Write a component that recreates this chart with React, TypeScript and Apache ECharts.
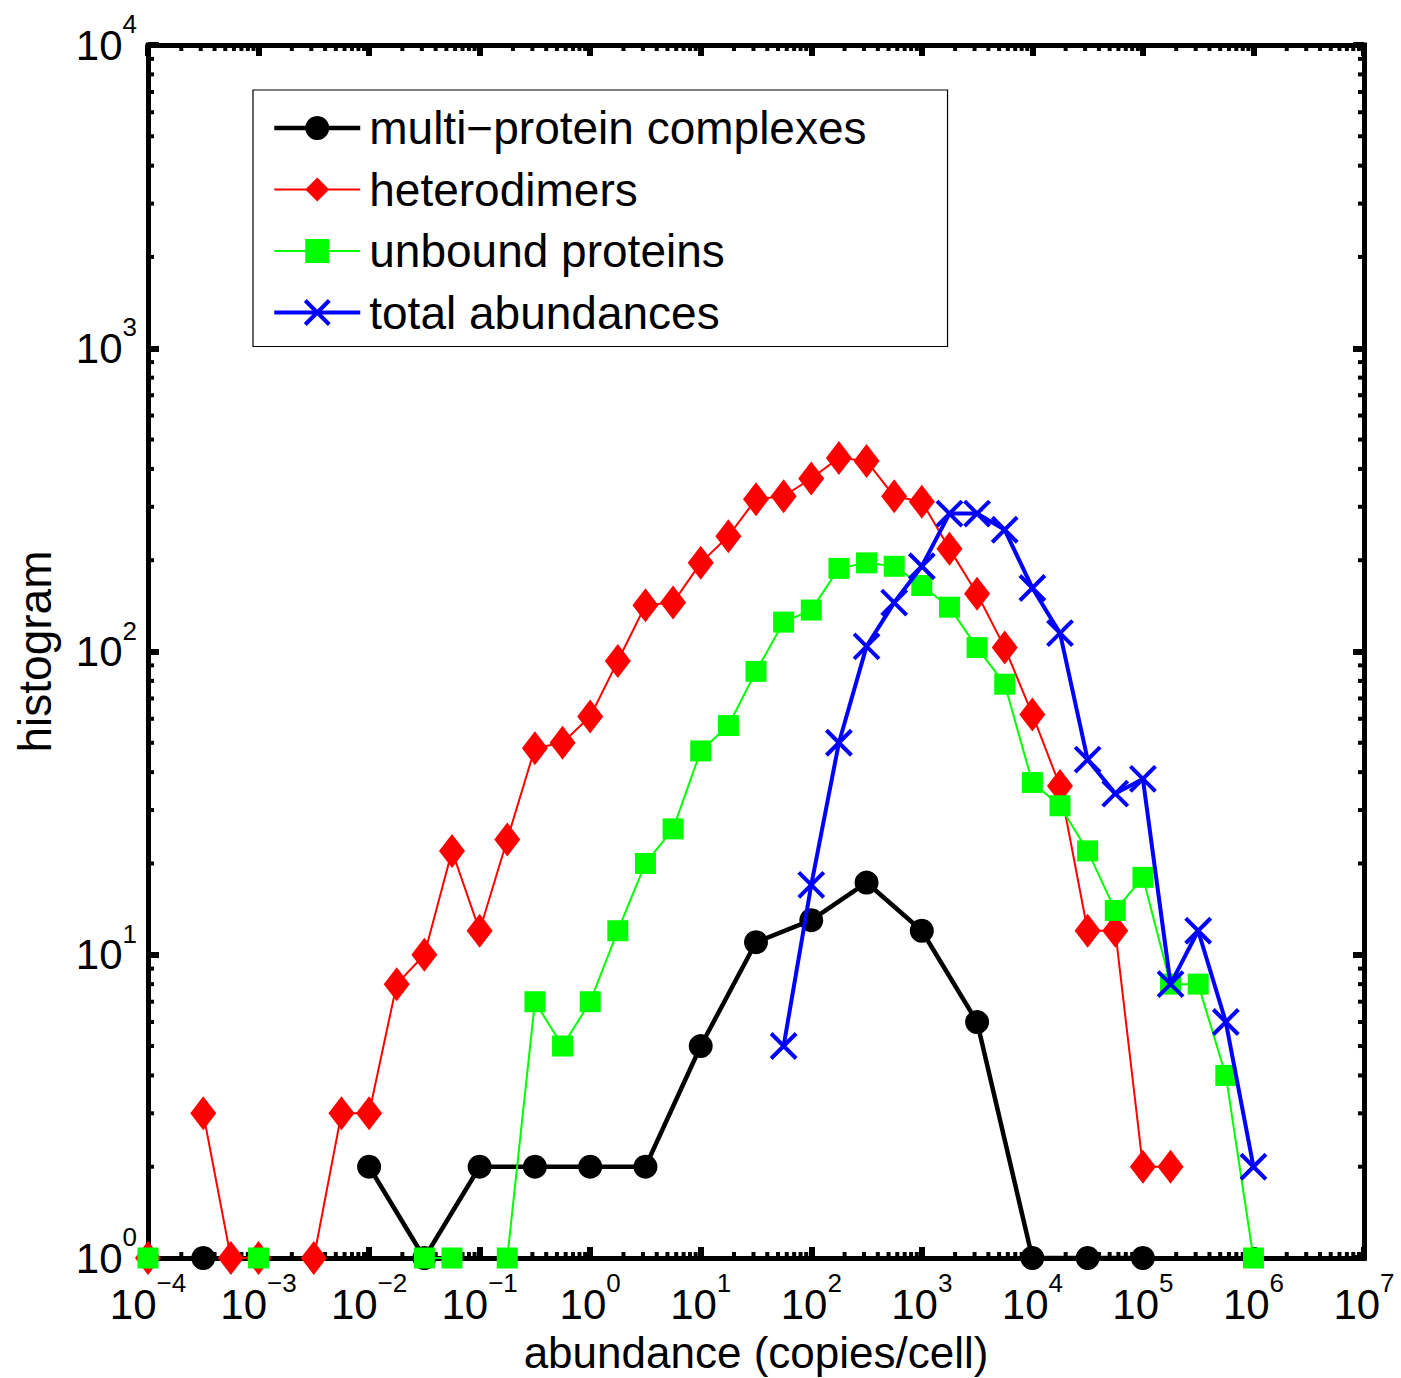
import React, { useEffect, useRef } from 'react';
import * as echarts from 'echarts';

const FONT = '"Liberation Sans", Arial, Helvetica, sans-serif';

// Bin centres as exponents of 10 (copies/cell)
const QUARTER_BINS_EXP = [
  -4, -3.75, -3.5, -3.25, -3, -2.75, -2.5, -2.25, -2, -1.75,
  -1.5, -1.25, -1, -0.75, -0.5, -0.25, 0, 0.25, 0.5, 0.75,
  1, 1.25, 1.5, 1.75, 2, 2.25, 2.5, 2.75, 3, 3.25,
  3.5, 3.75, 4, 4.25, 4.5, 4.75, 5, 5.25, 5.5, 5.75, 6,
];
const HALF_BINS_EXP = [
  -4, -3.5, -3, -2.5, -2, -1.5, -1, -0.5, 0, 0.5,
  1, 1.5, 2, 2.5, 3, 3.5, 4, 4.5, 5, 5.5, 6,
];

// Histogram counts (null = empty bin)
const MULTI_PROTEIN = [
  null, 1, null, null, 2, 1, 2, 2, 2, 2,
  5, 11, 13, 17.3, 12, 6, 1, 1, 1, null, null,
];
const HETERODIMERS = [
  1, null, 3, 1, 1, null, 1, 3, 3, 8,
  10, 22, 12, 24, 48, 50, 61, 93, 142, 145,
  196, 240, 318, 325, 372, 435, 425, 325, 312, 218,
  155, 103, 62, 36, 12, 12, 2, 2, null, null, null,
];
const UNBOUND = [
  1, null, null, null, 1, null, null, null, null, null,
  1, 1, null, 1, 7, 5, 7, 12, 20, 26,
  47, 57, 86, 125, 137, 188, 196, 191, 165, 140,
  103, 78, 37, 31, 22, 14, 18, 8, 8, 4, 1,
];
const TOTAL = [
  null, null, null, null, null, null, null, null, null, null,
  null, null, null, null, null, null, null, null, null, null,
  null, null, null, 5, 17, 50, 104, 145, 191, 285,
  285, 252, 162, 115, 44, 34, 38, 8, 12, 6, 2,
];

const SERIES_NAMES = [
  'multi\u2212protein complexes',
  'heterodimers',
  'unbound proteins',
  'total abundances',
];

const X_MIN = 1e-4;
const X_MAX = 1e7;
const Y_MIN = 1;
const Y_MAX = 1e4;
const X_DECADES = [-4, -3, -2, -1, 0, 1, 2, 3, 4, 5, 6];
const Y_DECADES = [0, 1, 2, 3];
const MINOR_STEPS = [2, 3, 4, 5, 6, 7, 8, 9];

const MAJOR_LEN = 11;
const MINOR_LEN = 6;

function pairs(exps: number[], vals: (number | null)[]) {
  return exps.map((e, i) => [Math.pow(10, e), vals[i] == null ? '-' : vals[i]]);
}

function minorValues(decades: number[]) {
  const out: number[] = [];
  decades.forEach((d) => MINOR_STEPS.forEach((m) => out.push(m * Math.pow(10, d))));
  return out;
}

function pow10Label(v: number) {
  const e = Math.round(Math.log10(v));
  const s = e < 0 ? '\u2212' + Math.abs(e) : String(e);
  return '{b|10}{s|' + s + '}';
}

const tickRich = {
  b: { fontSize: 42, lineHeight: 68, fontFamily: FONT, color: '#000' },
  s: { fontSize: 26, lineHeight: 26, verticalAlign: 'top', fontFamily: FONT, color: '#000' },
};

const frameLine = { color: '#000', width: 5, cap: 'square' };

export default function App() {
  const ref = useRef<HTMLDivElement>(null);

  useEffect(() => {
    if (!ref.current) return;
    const chart = echarts.init(ref.current, null, { renderer: 'svg' });

    const tickStyle = { stroke: '#000', lineWidth: 4 };

    const option: any = {
      animation: false,
      backgroundColor: '#fff',
      grid: { left: 148, right: 37, top: 45, bottom: 120, containLabel: false, outerBoundsMode: 'none' },
      legend: {
        data: SERIES_NAMES,
        orient: 'vertical',
        left: 253,
        top: 90,
        padding: [13, 81, 9, 19],
        itemGap: 11.5,
        itemWidth: 86,
        itemHeight: 30,
        borderColor: '#000',
        borderWidth: 1.2,
        borderRadius: 0,
        backgroundColor: '#fff',
        selectedMode: false,
        textStyle: { fontSize: 46, lineHeight: 50, fontFamily: FONT, color: '#000', padding: [0, 0, 0, 4] },
        lineStyle: { width: 'inherit' },
        itemStyle: { borderWidth: 'inherit' },
      },
      xAxis: [
        {
          type: 'log',
          logBase: 10,
          min: X_MIN,
          max: X_MAX,
          interval: 1,
          splitNumber: 11,
          position: 'bottom',
          axisLine: { show: true, onZero: false, lineStyle: frameLine },
          axisTick: { show: true, inside: true, length: MAJOR_LEN, lineStyle: { color: '#000', width: 6 } },
          minorTick: { show: false },
          splitLine: { show: false },
          axisLabel: {
            show: true,
            margin: 12,
            formatter: pow10Label,
            rich: tickRich,
            showMinLabel: true,
            showMaxLabel: true,
          },
          name: 'abundance (copies/cell)',
          nameLocation: 'middle',
          nameGap: 74.5,
          nameMoveOverlap: false,
          nameTextStyle: { fontSize: 44, lineHeight: 40, fontFamily: FONT, color: '#000' },
        },
        {
          type: 'log',
          logBase: 10,
          min: X_MIN,
          max: X_MAX,
          interval: 1,
          splitNumber: 11,
          position: 'top',
          axisLine: { show: true, onZero: false, lineStyle: frameLine },
          axisTick: { show: true, inside: true, length: MAJOR_LEN, lineStyle: { color: '#000', width: 6 } },
          splitLine: { show: false },
          axisLabel: { show: false },
        },
      ],
      yAxis: [
        {
          type: 'log',
          logBase: 10,
          min: Y_MIN,
          max: Y_MAX,
          interval: 1,
          splitNumber: 4,
          position: 'left',
          axisLine: { show: true, onZero: false, lineStyle: frameLine },
          axisTick: { show: true, inside: true, length: MAJOR_LEN, lineStyle: { color: '#000', width: 6 } },
          splitLine: { show: false },
          axisLabel: {
            show: true,
            margin: 11,
            formatter: pow10Label,
            rich: tickRich,
            showMinLabel: true,
            showMaxLabel: true,
          },
          name: 'histogram',
          nameLocation: 'middle',
          nameGap: 90,
          nameMoveOverlap: false,
          nameTextStyle: { fontSize: 46, fontFamily: FONT, color: '#000' },
        },
        {
          type: 'log',
          logBase: 10,
          min: Y_MIN,
          max: Y_MAX,
          interval: 1,
          splitNumber: 4,
          position: 'right',
          axisLine: { show: true, onZero: false, lineStyle: frameLine },
          axisTick: { show: true, inside: true, length: MAJOR_LEN, lineStyle: { color: '#000', width: 6 } },
          splitLine: { show: false },
          axisLabel: { show: false },
        },
      ],
      series: [
        {
          type: 'custom',
          silent: true,
          z: 1,
          xAxisIndex: 0,
          yAxisIndex: 0,
          data: minorValues(X_DECADES).map((v) => [v, Y_MIN]),
          renderItem: (params: any, api: any) => {
            const v = api.value(0);
            const b = api.coord([v, Y_MIN]);
            const t = api.coord([v, Y_MAX]);
            return {
              type: 'group',
              children: [
                { type: 'line', shape: { x1: b[0], y1: b[1], x2: b[0], y2: b[1] - MINOR_LEN }, style: tickStyle },
                { type: 'line', shape: { x1: t[0], y1: t[1], x2: t[0], y2: t[1] + MINOR_LEN }, style: tickStyle },
              ],
            };
          },
        },
        {
          type: 'custom',
          silent: true,
          z: 1,
          xAxisIndex: 0,
          yAxisIndex: 0,
          data: minorValues(Y_DECADES).map((v) => [X_MIN, v]),
          renderItem: (params: any, api: any) => {
            const v = api.value(1);
            const l = api.coord([X_MIN, v]);
            const r = api.coord([X_MAX, v]);
            return {
              type: 'group',
              children: [
                { type: 'line', shape: { x1: l[0], y1: l[1], x2: l[0] + MINOR_LEN, y2: l[1] }, style: tickStyle },
                { type: 'line', shape: { x1: r[0], y1: r[1], x2: r[0] - MINOR_LEN, y2: r[1] }, style: tickStyle },
              ],
            };
          },
        },
        {
          name: SERIES_NAMES[0],
          type: 'line',
          clip: false,
          data: pairs(HALF_BINS_EXP, MULTI_PROTEIN),
          symbol: 'circle',
          symbolSize: 24,
          showSymbol: true,
          connectNulls: false,
          lineStyle: { color: '#000', width: 4.5 },
          itemStyle: { color: '#000', borderWidth: 0 },
          z: 3,
        },
        {
          name: SERIES_NAMES[1],
          type: 'line',
          clip: false,
          data: pairs(QUARTER_BINS_EXP, HETERODIMERS),
          symbol: 'diamond',
          symbolSize: [26, 34],
          showSymbol: true,
          connectNulls: false,
          lineStyle: { color: '#ff0000', width: 2 },
          itemStyle: { color: '#ff0000', borderWidth: 0 },
          z: 4,
        },
        {
          name: SERIES_NAMES[2],
          type: 'line',
          clip: false,
          data: pairs(QUARTER_BINS_EXP, UNBOUND),
          symbol: 'rect',
          symbolSize: 21,
          showSymbol: true,
          connectNulls: false,
          lineStyle: { color: '#00ff00', width: 2 },
          itemStyle: { color: '#00ff00', borderWidth: 0 },
          z: 5,
        },
        {
          name: SERIES_NAMES[3],
          type: 'line',
          clip: false,
          data: pairs(QUARTER_BINS_EXP, TOTAL),
          symbol: 'path://M0,0L10,10M0,10L10,0',
          symbolSize: 25,
          showSymbol: true,
          connectNulls: false,
          lineStyle: { color: '#0000ff', width: 4 },
          itemStyle: { color: '#0000ff', borderColor: '#0000ff', borderWidth: 4 },
          z: 6,
        },
      ],
    };

    chart.setOption(option);
    return () => chart.dispose();
  }, []);

  return (
    <div
      ref={ref}
      style={{ position: 'fixed', left: 0, top: 0, width: 1401, height: 1378, background: '#fff' }}
    />
  );
}
